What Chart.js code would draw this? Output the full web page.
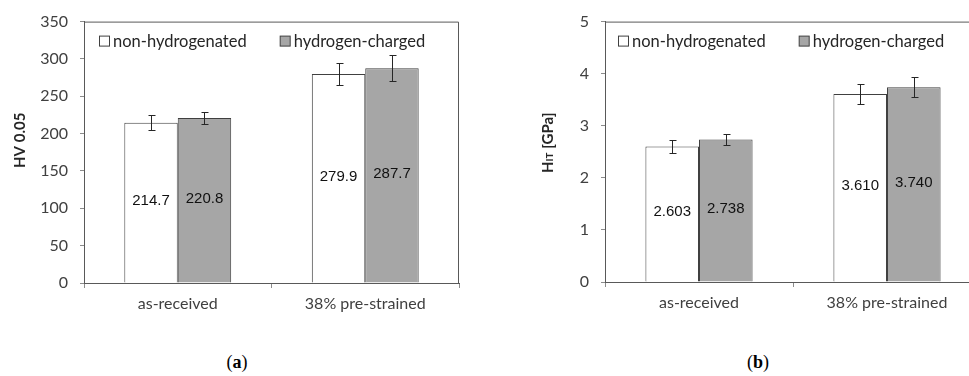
<!DOCTYPE html>
<html>
<head>
<meta charset="utf-8">
<script src="https://cdn.jsdelivr.net/npm/chart.js@4.4.1/dist/chart.umd.min.js"></script>
<style>
  body { margin: 0; width: 969px; height: 376px; overflow: hidden; background: #fff; position: relative; }
  .panel { position: absolute; top: 0; height: 330px; }
  #panelA { left: 0; width: 480px; }
  #panelB { left: 480px; width: 520px; }
  .cap { position: absolute; top: 352px; width: 60px; text-align: center;
         font-family: "Liberation Serif", serif; font-size: 18px; color: #000; }
</style>
</head>
<body>
<div class="panel" id="panelA"><canvas id="hvChart"></canvas></div>
<div class="panel" id="panelB"><canvas id="hitChart"></canvas></div>
<div class="cap" style="left:207px">(<b>a</b>)</div>
<div class="cap" style="left:728px">(<b>b</b>)</div>
<script>
const categories = ['as-received', '38% pre-strained'];
const seriesNames = ['non-hydrogenated', 'hydrogen-charged'];

// Vickers hardness HV 0.05, mean and scatter
const hvPlain = [214.7, 279.9];
const hvCharged = [220.8, 287.7];
const hvPlainErr = [10, 15];
const hvChargedErr = [8, 17.5];
const hvTicks = [0, 50, 100, 150, 200, 250, 300, 350];

// indentation hardness HIT in GPa
const hitPlain = [2.603, 3.610];
const hitCharged = [2.738, 3.740];
const hitPlainErr = [0.12, 0.2];
const hitChargedErr = [0.1, 0.19];
const hitTicks = [0, 1, 2, 3, 4, 5];

const seriesColors = ['#ffffff', '#a6a6a6'];
const tickFont = { family: 'Lato', size: 16 };

// error bars, value labels and the frame round the plot area
const barExtras = {
  id: 'barExtras',
  afterDatasetsDraw(chart, args, opts) {
    const ctx = chart.ctx;
    const y = chart.scales.y;
    const area = chart.chartArea;
    ctx.save();
    ctx.strokeStyle = '#595959';
    ctx.lineWidth = 1;
    ctx.beginPath();
    ctx.moveTo(area.left, area.top + 0.5);
    ctx.lineTo(area.right - 0.5, area.top + 0.5);
    ctx.lineTo(area.right - 0.5, area.bottom);
    ctx.stroke();

    chart.data.datasets.forEach((ds, i) => {
      const meta = chart.getDatasetMeta(i);
      meta.data.forEach((bar, j) => {
        const v = ds.data[j];
        const e = ds.errors[j];
        const x = Math.round(bar.x) + 0.5;
        const top = Math.round(y.getPixelForValue(v + e)) + 0.5;
        const bot = Math.round(y.getPixelForValue(v - e)) + 0.5;
        ctx.strokeStyle = '#262626';
        ctx.beginPath();
        ctx.moveTo(x, top); ctx.lineTo(x, bot);
        ctx.moveTo(x - 3, top); ctx.lineTo(x + 4, top);
        ctx.moveTo(x - 3, bot); ctx.lineTo(x + 4, bot);
        ctx.stroke();

        ctx.fillStyle = '#111';
        ctx.font = '15px "Liberation Sans", Arial, sans-serif';
        ctx.textAlign = 'center';
        ctx.textBaseline = 'middle';
        ctx.fillText(v.toFixed(opts.decimals), bar.x, y.getPixelForValue(v / 2) - 2);
      });
    });
    ctx.restore();
  }
};

// legend drawn inside the top of the plot area
const insideLegend = {
  id: 'insideLegend',
  afterDraw(chart, args, opts) {
    const ctx = chart.ctx;
    const area = chart.chartArea;
    ctx.save();
    ctx.font = '16.5px Lato';
    ctx.textBaseline = 'middle';
    ctx.textAlign = 'left';
    let x = area.left + opts.left;
    const cy = area.top + opts.top;
    chart.data.datasets.forEach(ds => {
      ctx.fillStyle = ds.backgroundColor;
      ctx.strokeStyle = '#404040';
      ctx.fillRect(x + 0.5, cy - 5.5, 10, 10);
      ctx.strokeRect(x + 0.5, cy - 5.5, 10, 10);
      ctx.fillStyle = '#262626';
      ctx.fillText(ds.label, x + 14, cy);
      x += 14 + ctx.measureText(ds.label).width + opts.gap;
    });
    ctx.restore();
  }
};

// rotated y axis title, pieces may use different fonts
const axisTitle = {
  id: 'axisTitle',
  afterDraw(chart, args, opts) {
    const ctx = chart.ctx;
    const area = chart.chartArea;
    ctx.save();
    ctx.translate(area.left - opts.offset, (area.top + area.bottom) / 2 + opts.dy);
    ctx.rotate(-Math.PI / 2);
    let total = 0;
    opts.parts.forEach(p => { ctx.font = p.font; total += ctx.measureText(p.text).width; });
    let x = -total / 2;
    ctx.fillStyle = '#262626';
    ctx.textBaseline = 'alphabetic';
    opts.parts.forEach(p => {
      ctx.font = p.font;
      ctx.fillText(p.text, x, 5);
      x += ctx.measureText(p.text).width;
    });
    ctx.restore();
  }
};

function makeChart(id, plain, charged, plainErr, chargedErr, ticks, cfg) {
  return new Chart(document.getElementById(id), {
    type: 'bar',
    data: {
      labels: categories,
      datasets: [
        { label: seriesNames[0], data: plain, errors: plainErr,
          backgroundColor: seriesColors[0], borderColor: '#404040', borderWidth: 1 },
        { label: seriesNames[1], data: charged, errors: chargedErr,
          backgroundColor: seriesColors[1], borderColor: '#404040', borderWidth: 1 }
      ]
    },
    options: {
      responsive: true,
      maintainAspectRatio: false,
      animation: false,
      datasets: { bar: { categoryPercentage: 0.57, barPercentage: 1 } },
      layout: { padding: cfg.padding },
      plugins: {
        legend: { display: false },
        tooltip: { enabled: false },
        barExtras: { decimals: cfg.decimals },
        insideLegend: { left: cfg.legendLeft, top: 20, gap: 33 },
        axisTitle: cfg.title
      },
      scales: {
        x: {
          grid: { display: true, drawOnChartArea: false, offset: true, tickLength: 5, color: '#8c8c8c' },
          border: { color: '#595959' },
          ticks: { font: tickFont, color: '#404040', padding: 6 },
          afterFit(s) { s.height = cfg.xHeight; }
        },
        y: {
          min: ticks[0],
          max: ticks[ticks.length - 1],
          grid: { drawOnChartArea: false, tickLength: 4, color: '#8c8c8c' },
          border: { color: '#595959' },
          ticks: { stepSize: ticks[1] - ticks[0], font: tickFont, color: '#404040', padding: 12 },
          afterFit(s) { s.width = cfg.yWidth; }
        }
      }
    },
    plugins: [barExtras, insideLegend, axisTitle]
  });
}

makeChart('hvChart', hvPlain, hvCharged, hvPlainErr, hvChargedErr, hvTicks, {
  decimals: 1,
  padding: { top: 20, right: 21, bottom: 0, left: 0 },
  yWidth: 84,
  xHeight: 47,
  legendLeft: 15,
  title: { offset: 64, dy: -12, parts: [{ text: 'HV 0.05', font: 'bold 15px Lato' }] }
});

makeChart('hitChart', hitPlain, hitCharged, hitPlainErr, hitChargedErr, hitTicks, {
  decimals: 3,
  padding: { top: 19, right: 19, bottom: 0, left: 0 },
  yWidth: 125,
  xHeight: 48,
  legendLeft: 13,
  title: { offset: 57, dy: -9, parts: [
    { text: 'H', font: 'bold 15px Lato' },
    { text: 'IT', font: 'bold 10px Lato' },
    { text: ' [GPa]', font: 'bold 15px Lato' }
  ] }
});
</script>
</body>
</html>
